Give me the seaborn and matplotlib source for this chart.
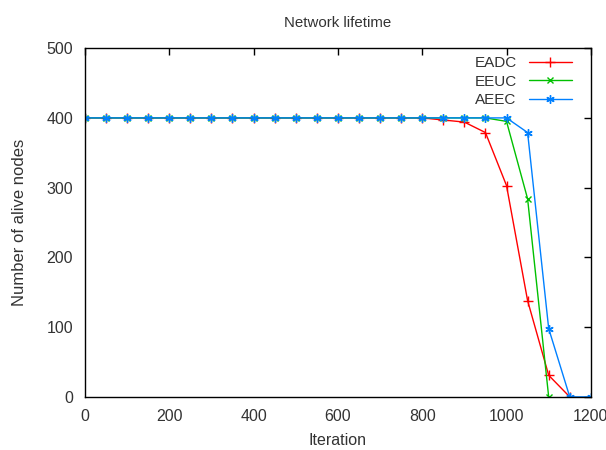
import numpy as np
import pandas as pd
import seaborn as sns
import matplotlib
matplotlib.use('Agg')
import matplotlib.pyplot as plt

iterations = [0, 50, 100, 150, 200, 250, 300, 350, 400, 450, 500, 550, 600,
              650, 700, 750, 800, 850, 900, 950, 1000, 1050, 1100, 1150, 1200]
eadc = [400] * 17 + [397, 394, 379, 303, 138, 31, 0]
eeuc = [400] * 20 + [395, 284, 0]
aeec = [400] * 21 + [379, 98, 0, 0]

series = {'EADC': eadc, 'EEUC': eeuc, 'AEEC': aeec}
colors = {'EADC': '#ff0000', 'EEUC': '#00c000', 'AEEC': '#0080ff'}
markers = {'EADC': '+', 'EEUC': 'x', 'AEEC': (6, 2, 0)}
msizes = {'EADC': 6.5, 'EEUC': 5, 'AEEC': 6}

rows = []
for name, vals in series.items():
    for x, y in zip(iterations, vals):
        rows.append({'Iteration': x, 'Nodes': y, 'Protocol': name})
df = pd.DataFrame(rows)

sns.set_style('white')
plt.rcParams['font.family'] = ['Liberation Sans', 'DejaVu Sans']

fig = plt.figure(figsize=(6.06, 4.5), dpi=100)
ax = fig.add_axes([0.140, 0.118, 0.835, 0.775])

for name in series:
    sub = df[df['Protocol'] == name]
    sns.lineplot(data=sub, x='Iteration', y='Nodes', ax=ax, label=name,
                 color=colors[name], marker=markers[name],
                 markersize=msizes[name], markeredgewidth=1,
                 markeredgecolor=colors[name], linewidth=1, sort=False)

ax.set_xlim(0, 1200)
ax.set_ylim(0, 500)
ax.set_xticks(range(0, 1201, 200))
ax.set_yticks(range(0, 501, 100))
ax.tick_params(direction='in', length=5, width=1, top=True, right=True,
               labelsize=11.5, colors='black', labelcolor='#333333', pad=8.5)
for s in ax.spines.values():
    s.set_color('black')
    s.set_linewidth(1)

ax.set_xlabel('Iteration', fontsize=11.5, color='#333333', labelpad=7)
ax.set_ylabel('Number of alive nodes', fontsize=12, color='#333333', labelpad=14)
ax.set_title('Network lifetime', fontsize=10.8, color='#333333', pad=15)

leg = ax.legend(loc='upper right', frameon=False, markerfirst=False,
                fontsize=11, handlelength=2.8, labelspacing=0.3,
                borderaxespad=0, bbox_to_anchor=(0.974, 0.995))
for t in leg.get_texts():
    t.set_color('#333333')

fig.savefig('out.png', dpi=100)
